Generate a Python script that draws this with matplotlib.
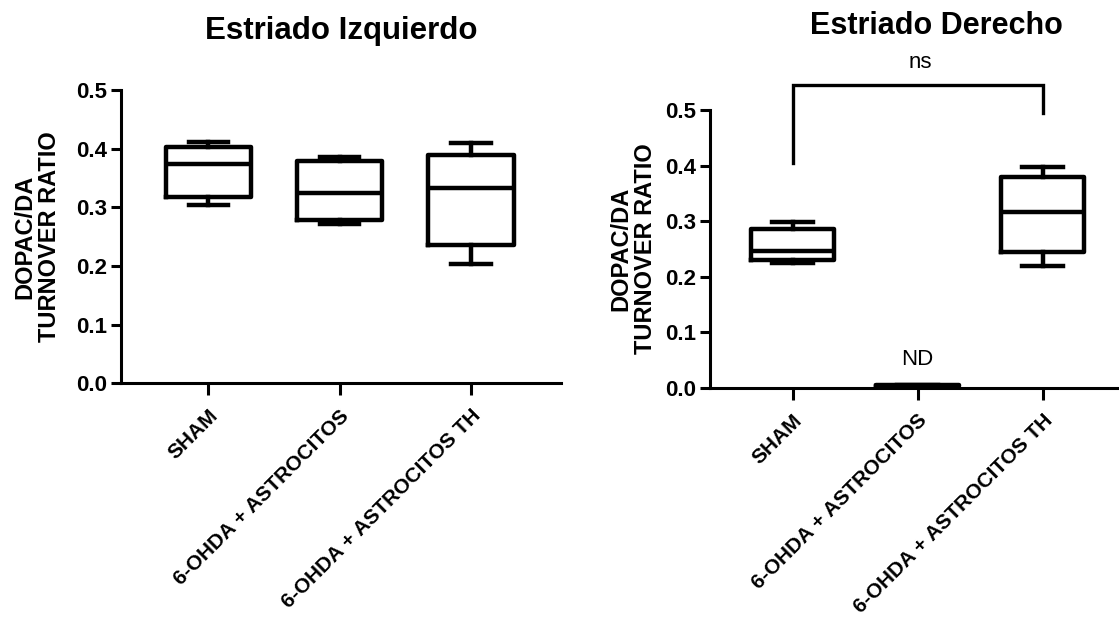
import numpy as np
import matplotlib
matplotlib.use("Agg")
from matplotlib import pyplot as plt

plt.rcParams['font.family'] = ['Liberation Sans', 'DejaVu Sans']

# groups and box stats (min, q1, median, q3, max)
groups = ['SHAM', '6-OHDA + ASTROCITOS', '6-OHDA + ASTROCITOS TH']

izq_min = [0.304, 0.272, 0.204]
izq_q1 = [0.318, 0.278, 0.236]
izq_med = [0.374, 0.324, 0.333]
izq_q3 = [0.402, 0.378, 0.389]
izq_max = [0.412, 0.385, 0.409]

der_min = [0.224, 0.002, 0.219]
der_q1 = [0.230, 0.003, 0.245]
der_med = [0.247, 0.003, 0.317]
der_q3 = [0.286, 0.004, 0.380]
der_max = [0.299, 0.005, 0.398]

bracket_y = 0.545
bracket_left = 0.405
bracket_right = 0.494


def make_stats(mins, q1s, meds, q3s, maxs):
    out = []
    for a, b, c, d, e in zip(mins, q1s, meds, q3s, maxs):
        out.append(dict(whislo=a, q1=b, med=c, q3=d, whishi=e, fliers=[]))
    return out


def style_axis(ax, xlim):
    ax.set_xlim(*xlim)
    ax.set_ylim(0, 0.5)
    ax.spines['top'].set_visible(False)
    ax.spines['right'].set_visible(False)
    ax.spines['left'].set_linewidth(2.2)
    ax.spines['bottom'].set_linewidth(2.2)
    ax.set_yticks(np.arange(0, 0.51, 0.1))
    ax.set_yticklabels(['%.1f' % v for v in np.arange(0, 0.51, 0.1)],
                       fontsize=16, fontweight='bold')
    ax.set_xticks(range(len(groups)))
    ax.set_xticklabels(groups, rotation=45, ha='right', va='top',
                       rotation_mode='anchor', fontsize=15, fontweight='bold')
    ax.tick_params(axis='y', length=7, width=2.2, pad=3)
    ax.tick_params(axis='x', length=8.5, width=2.2, pad=8)
    ax.set_ylabel('DOPAC/DA\nTURNOVER RATIO', fontsize=17, fontweight='bold',
                  multialignment='center', linespacing=1.1)


fig = plt.figure(figsize=(11.19, 6.2), dpi=100)
ax1 = fig.add_axes([0.1079, 0.382, 0.3932, 0.473])
ax2 = fig.add_axes([0.6345, 0.3747, 0.3655, 0.4479])

box_kw = dict(showfliers=False, patch_artist=False,
              boxprops=dict(linewidth=3.2, color='black'),
              whiskerprops=dict(linewidth=3.2, color='black'),
              capprops=dict(linewidth=3.2, color='black'),
              medianprops=dict(linewidth=3.2, color='black'))

ax1.bxp(make_stats(izq_min, izq_q1, izq_med, izq_q3, izq_max),
        positions=range(3), widths=0.65, capwidths=0.3, **box_kw)
ax2.bxp(make_stats(der_min, der_q1, der_med, der_q3, der_max),
        positions=range(3), widths=0.66, capwidths=0.33, **box_kw)

style_axis(ax1, (-0.667, 2.683))
style_axis(ax2, (-0.66, 2.61))
ax1.yaxis.set_label_coords(-0.135, 0.5)
ax2.yaxis.set_label_coords(-0.13, 0.5)

# significance bracket
ax2.plot([0, 0, 2, 2], [bracket_left, bracket_y, bracket_y, bracket_right],
         color='black', lw=2.4, clip_on=False, solid_joinstyle='miter')
ax2.text(1.02, bracket_y + 0.04, 'ns', ha='center', va='center', fontsize=16)
ax2.text(1, 0.05, 'ND', ha='center', va='center', fontsize=16)

fig.text(341 / 1119, 1 - 31 / 620, 'Estriado Izquierdo', ha='center',
         va='center', fontsize=22.5, fontweight='bold')
fig.text(936 / 1119, 1 - 26 / 620, 'Estriado Derecho', ha='center',
         va='center', fontsize=22, fontweight='bold')

fig.savefig('out.png', dpi=100)
